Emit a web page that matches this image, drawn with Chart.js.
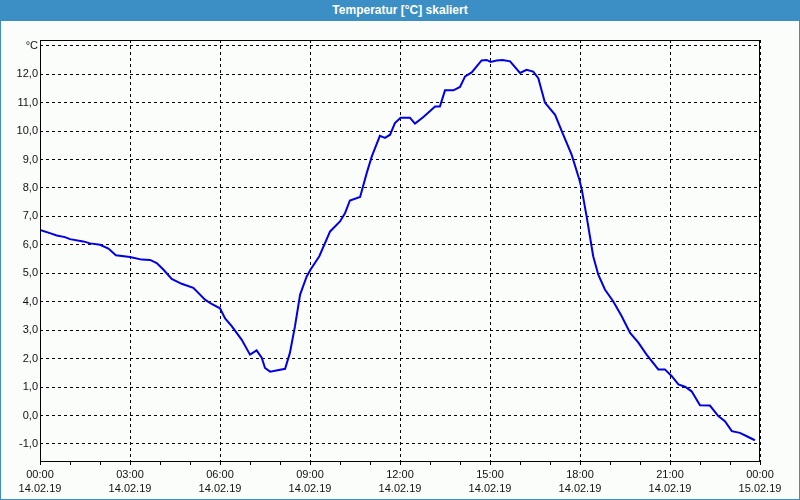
<!DOCTYPE html>
<html lang="de">
<head>
<meta charset="UTF-8">
<title>Temperatur [°C] skaliert</title>
<script src="https://cdn.jsdelivr.net/npm/chart.js"></script>
<style>
  html, body { margin: 0; padding: 0; }
  body { width: 800px; height: 500px; overflow: hidden; background: #fbfdfb; font-family: "Liberation Sans", Arial, sans-serif; }
  #titlebar { height: 21px; line-height: 21px; background: #3c8fc4; color: #fff; font-weight: bold; font-size: 12px; text-align: center; }
  #frame { width: 798px; height: 478px; border: 1px solid #3c8fc4; border-top: none; }
  canvas { display: block; }
</style>
</head>
<body>
<div id="titlebar">Temperatur [°C] skaliert</div>
<div id="frame"><canvas id="chart" width="798" height="478"></canvas></div>
<script>
// Messwerte: Stunde seit 14.02.19 00:00 und Temperatur in °C
const hours = [0.0, 0.33, 0.56, 0.83, 1.0, 1.44, 1.67, 2.0, 2.28, 2.53, 3.0, 3.39, 3.67, 3.89, 4.11, 4.39, 4.72, 5.11, 5.22, 5.5,
  5.72, 6.0, 6.17, 6.39, 6.72, 7.0, 7.22, 7.39, 7.5, 7.67, 8.17, 8.33, 8.5, 8.67, 8.89, 9.02, 9.31, 9.67, 10.0, 10.17,
  10.33, 10.67, 10.89, 11.06, 11.33, 11.5, 11.67, 11.83, 12.02, 12.33, 12.5, 12.78, 13.17, 13.33, 13.5, 13.78, 14.0, 14.17, 14.39, 14.72,
  14.89, 15.02, 15.22, 15.42, 15.67, 16.0, 16.22, 16.44, 16.61, 16.83, 17.17, 17.44, 17.72, 17.98, 18.06, 18.22, 18.33, 18.44, 18.61, 18.83,
  19.11, 19.39, 19.67, 19.94, 20.22, 20.61, 20.83, 21.06, 21.28, 21.5, 21.72, 22.0, 22.33, 22.61, 22.83, 23.06, 23.33, 23.56, 23.83];
const temps = [6.52, 6.41, 6.33, 6.27, 6.2, 6.12, 6.05, 6.0, 5.87, 5.63, 5.57, 5.48, 5.47, 5.36, 5.13, 4.8, 4.63, 4.49, 4.37, 4.07,
  3.92, 3.77, 3.41, 3.14, 2.67, 2.14, 2.29, 2.03, 1.67, 1.54, 1.64, 2.2, 3.14, 4.25, 4.89, 5.13, 5.6, 6.47, 6.82, 7.12,
  7.56, 7.68, 8.52, 9.11, 9.83, 9.76, 9.87, 10.28, 10.47, 10.47, 10.26, 10.49, 10.86, 10.86, 11.43, 11.43, 11.55, 11.92, 12.06, 12.48,
  12.5, 12.43, 12.48, 12.5, 12.45, 12.04, 12.15, 12.09, 11.86, 11.0, 10.57, 9.87, 9.17, 8.29, 7.94, 7.0, 6.3, 5.6, 4.95, 4.43,
  4.01, 3.49, 2.9, 2.57, 2.14, 1.62, 1.62, 1.38, 1.09, 1.01, 0.85, 0.36, 0.35, -0.02, -0.2, -0.55, -0.61, -0.73, -0.87];

const yTicks = [-1, 0, 1, 2, 3, 4, 5, 6, 7, 8, 9, 10, 11, 12, 13];
const xTicks = [0, 1, 2, 3, 4, 5, 6, 7, 8, 9, 10, 11, 12, 13, 14, 15, 16, 17, 18, 19, 20, 21, 22, 23, 24];
const xTimeLabels = ['00:00', '03:00', '06:00', '09:00', '12:00', '15:00', '18:00', '21:00', '00:00'];
const xDateLabels = ['14.02.19', '14.02.19', '14.02.19', '14.02.19', '14.02.19', '14.02.19', '14.02.19', '14.02.19', '15.02.19'];

const tickFont = { family: '"Liberation Sans", Arial, sans-serif', size: 11 };

// schwarzer Rahmen um die Zeichenfläche
const framePlugin = {
  id: 'frame',
  afterDraw(chart) {
    const a = chart.chartArea;
    const ctx = chart.ctx;
    ctx.save();
    ctx.strokeStyle = '#000';
    ctx.lineWidth = 1;
    ctx.strokeRect(a.left + 0.5, a.top + 0.5, a.right - a.left - 1, a.bottom - a.top);
    ctx.restore();
  }
};

new Chart(document.getElementById('chart'), {
  type: 'line',
  data: {
    datasets: [{
      data: hours.map((h, i) => ({ x: h, y: temps[i] })),
      borderColor: 'rgb(0,0,230)',
      borderWidth: 2,
      pointRadius: 0,
      tension: 0,
      fill: false
    }]
  },
  options: {
    responsive: false,
    animation: false,
    devicePixelRatio: 1,
    layout: { padding: { left: 0, right: 39, top: 19, bottom: 0 } },
    plugins: { legend: { display: false }, title: { display: false }, tooltip: { enabled: false } },
    scales: {
      x: {
        type: 'linear',
        min: 0,
        max: 24,
        afterBuildTicks(scale) { scale.ticks = xTicks.map(v => ({ value: v })); },
        afterFit(scale) { scale.height = 38; },
        border: { display: false, dash: [3, 3] },
        grid: {
          color: ctx => (ctx.tick && ctx.tick.value % 3 === 0) ? '#000' : 'rgba(0,0,0,0)',
          tickColor: '#000',
          tickLength: 4,
          drawTicks: true
        },
        ticks: {
          autoSkip: false,
          maxRotation: 0,
          padding: 3,
          color: '#111',
          font: { ...tickFont, lineHeight: '14px' },
          callback: v => v % 3 === 0 ? [xTimeLabels[v / 3], xDateLabels[v / 3]] : ''
        }
      },
      y: {
        min: -1.6,
        max: 13.2,
        afterBuildTicks(scale) { scale.ticks = yTicks.map(v => ({ value: v })); },
        afterFit(scale) { scale.width = 39; },
        border: { display: false, dash: [3, 3] },
        grid: { color: '#000', drawTicks: false },
        ticks: {
          padding: 2,
          color: '#111',
          font: tickFont,
          callback: v => v === 13 ? '°C' : v.toFixed(1).replace('.', ',')
        }
      }
    }
  },
  plugins: [framePlugin]
});
</script>
</body>
</html>
